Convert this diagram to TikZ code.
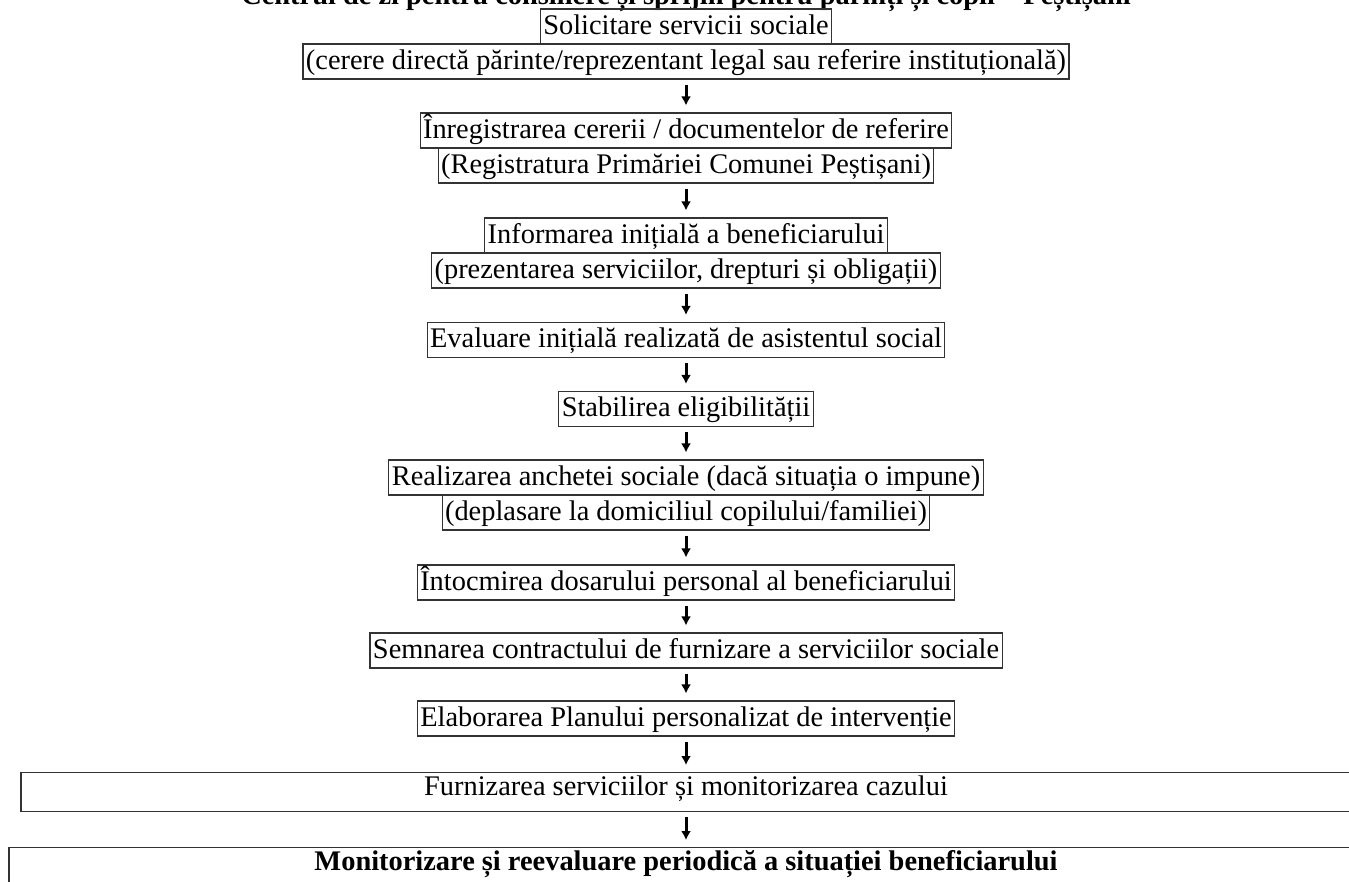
\documentclass[tikz,border=0pt]{standalone}
\usepackage{fontspec}
\setmainfont{Liberation Serif}
\usepackage{tikz}
\usetikzlibrary{arrows.meta}

\begin{document}
\begin{tikzpicture}[x=1pt,y=-1pt]
 \newcommand{\mX}{686}
	\tikzset{box/.style = {draw=black!80,line width=1.1pt,inner xsep=3pt,inner ysep=2pt,
		text height=23pt,text depth=8pt,minimum height=35pt,
		font=\fontsize{28.4}{33}\selectfont}}
	\tikzset{wide/.style = {box,anchor=north,minimum width=1330pt,inner ysep=3pt,text height=20pt}}
	\tikzstyle{edge} = [-{Latex[length=9pt,width=10pt]},line width=3pt,shorten <=5pt,shorten >=7pt]
	\useasboundingbox (0,0) rectangle (1349,881);
	%title (cut by the page)
	\node[anchor=base,font=\fontsize{28.4}{33}\selectfont\bfseries] (title) at (\mX,4)
		{Centrul de zi pentru consiliere și sprijin pentru părinți și copii – Peștișani};
	%steps
	\node[box] (s1) at (\mX,26.5) {Solicitare servicii sociale};
	\node[box] (s1d) at (\mX,61.5) {(cerere directă părinte/reprezentant legal sau referire instituțională)};
	\node[box] (s2) at (\mX,130.5) {Înregistrarea cererii / documentelor de referire};
	\node[box] (s2d) at (\mX,165.5) {(Registratura Primăriei Comunei Peștișani)};
	\node[box] (s3) at (\mX,235.5) {Informarea inițială a beneficiarului};
	\node[box] (s3d) at (\mX,270.5) {(prezentarea serviciilor, drepturi și obligații)};
	\node[box] (s4) at (\mX,340) {Evaluare inițială realizată de asistentul social};
	\node[box] (s5) at (\mX,409) {Stabilirea eligibilității};
	\node[box] (s6) at (\mX,477.5) {Realizarea anchetei sociale (dacă situația o impune)};
	\node[box] (s6d) at (\mX,512.5) {(deplasare la domiciliul copilului/familiei)};
	\node[box] (s7) at (\mX,582.5) {Întocmirea dosarului personal al beneficiarului};
	\node[box] (s8) at (\mX,650.5) {Semnarea contractului de furnizare a serviciilor sociale};
	\node[box] (s9) at (\mX,718.5) {Elaborarea Planului personalizat de intervenție};
	\node[wide,text depth=13pt] (s10) at (\mX,772) {Furnizarea serviciilor și monitorizarea cazului};
	\node[wide,minimum width=1354pt,text depth=60pt,font=\fontsize{28.4}{33}\selectfont\bfseries] (s11) at (\mX,847)
		{Monitorizare și reevaluare periodică a situației beneficiarului};
	%flow
	\draw[edge] (s1d) -- (s2);
	\draw[edge] (s2d) -- (s3);
	\draw[edge] (s3d) -- (s4);
	\draw[edge] (s4) -- (s5);
	\draw[edge] (s5) -- (s6);
	\draw[edge] (s6d) -- (s7);
	\draw[edge] (s7) -- (s8);
	\draw[edge] (s8) -- (s9);
	\draw[edge] (s9) -- (s10);
	\draw[edge] (s10) -- (s11);
\end{tikzpicture}
\end{document}
